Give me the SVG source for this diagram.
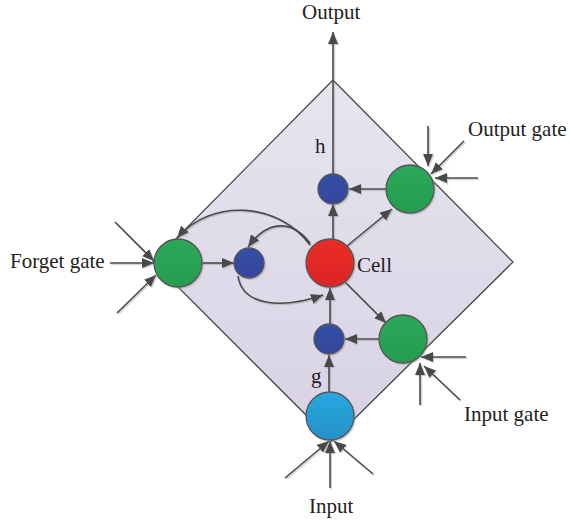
<svg xmlns="http://www.w3.org/2000/svg" width="570" height="525" viewBox="0 0 570 525">
<defs>
<linearGradient id="bg" x1="0" y1="0" x2="0" y2="1"><stop offset="0" stop-color="#e6e5f0"/><stop offset="1" stop-color="#d8d2e4"/></linearGradient>
<linearGradient id="gr" x1="0" y1="0" x2="0" y2="1"><stop offset="0" stop-color="#2aa858"/><stop offset="1" stop-color="#279c50"/></linearGradient>
<linearGradient id="rd" x1="0" y1="0" x2="0" y2="1"><stop offset="0" stop-color="#ea2b27"/><stop offset="1" stop-color="#dc2626"/></linearGradient>
<linearGradient id="bl" x1="0" y1="0" x2="0" y2="1"><stop offset="0" stop-color="#3250a6"/><stop offset="1" stop-color="#36449c"/></linearGradient>
<linearGradient id="cy" x1="0" y1="0" x2="0" y2="1"><stop offset="0" stop-color="#29a8e0"/><stop offset="1" stop-color="#2590c8"/></linearGradient>
<marker id="a" markerUnits="userSpaceOnUse" markerWidth="13" markerHeight="10" refX="12" refY="5" orient="auto"><path d="M0 0L12 5L0 10Z" fill="#4a4a4a"/></marker>
<filter id="sh" x="-10%" y="-10%" width="120%" height="120%"><feDropShadow dx="1.2" dy="1.2" stdDeviation="0.7" flood-color="#888" flood-opacity="0.45"/></filter>
</defs>
<style>
.c{fill:none;stroke:#4a4a4a;stroke-width:1.6}
.ar{marker-end:url(#a)}
.n{stroke:#555;stroke-width:1.3}
text{font-family:"Liberation Serif","Times New Roman",serif;font-size:21px;fill:#222}
</style>
<path id="diamond" d="M333 80L513 262L332 441L153 262Z" fill="url(#bg)" stroke="#4a4a4a" stroke-width="1.3"/>
<g id="connectors" filter="url(#sh)">
<path class="c ar" d="M333 174V32"/>
<path class="c ar" d="M333 240V204"/>
<path class="c ar" d="M386 189H349"/>
<path class="c ar" d="M347 246L392 209"/>
<path class="c ar" d="M345 282L386 323"/>
<path class="c ar" d="M379 339H345"/>
<path class="c ar" d="M330 324V288"/>
<path class="c ar" d="M329 392V355"/>
<path class="c ar" d="M202 263H234"/>
<path class="c ar" d="M310 245C280 203 212 197 177 238"/>
<path class="c ar" d="M310 243C292 220 268 219 248 247"/>
<path class="c ar" d="M238 276C242 305 280 310 323 295"/>
<path class="c ar" d="M115 222L154 261"/>
<path class="c ar" d="M110 263H154"/>
<path class="c ar" d="M117 313L156 275"/>
<path class="c ar" d="M428 126V166"/>
<path class="c ar" d="M464 141L431 174"/>
<path class="c ar" d="M478 178H435"/>
<path class="c ar" d="M466 357H421"/>
<path class="c ar" d="M420 405V363"/>
<path class="c ar" d="M460 400L424 366"/>
<path class="c ar" d="M285 478L329 441"/>
<path class="c ar" d="M330 488V441"/>
<path class="c ar" d="M373 474L334 441"/>
</g>
<g id="forget"><circle class="n" cx="178" cy="263" r="24" fill="url(#gr)" filter="url(#sh)"/><text x="10" y="268">Forget gate</text></g>
<g id="forget-blue"><circle class="n" cx="249" cy="263" r="15" fill="url(#bl)" filter="url(#sh)"/></g>
<g id="cell"><circle class="n" cx="330" cy="263" r="24" fill="url(#rd)" filter="url(#sh)"/><text x="357" y="272">Cell</text></g>
<g id="h"><circle class="n" cx="333" cy="189" r="15" fill="url(#bl)" filter="url(#sh)"/><text x="315" y="153">h</text></g>
<g id="output-gate"><circle class="n" cx="410" cy="189" r="24" fill="url(#gr)" filter="url(#sh)"/><text x="468" y="136">Output gate</text></g>
<g id="input-gate"><circle class="n" cx="403" cy="339" r="24" fill="url(#gr)" filter="url(#sh)"/><text x="464" y="421">Input gate</text></g>
<g id="g"><circle class="n" cx="329" cy="339" r="15" fill="url(#bl)" filter="url(#sh)"/><text x="311" y="383">g</text></g>
<g id="input"><circle class="n" cx="330" cy="416" r="24" fill="url(#cy)" filter="url(#sh)"/><text x="309" y="513">Input</text></g>
<g id="output"><text x="302" y="19">Output</text></g>
</svg>
